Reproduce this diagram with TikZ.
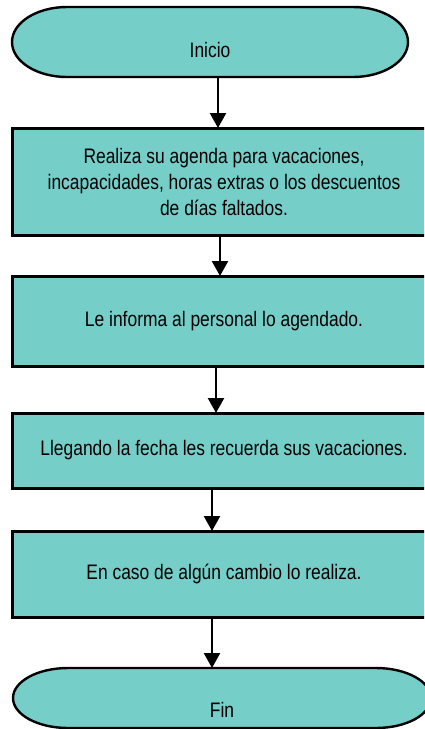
\documentclass[tikz,border=0pt]{standalone}
\usepackage{fontspec}
\setmainfont{Liberation Sans}[FakeStretch=0.83]
\usetikzlibrary{arrows.meta,positioning,backgrounds}
\definecolor{flowteal}{HTML}{76CEC8}

\begin{document}
\begin{tikzpicture}[
    terminal/.style={rectangle, minimum height=70pt, inner sep=0pt, outer sep=0pt, text depth=0pt, font=\fontsize{21}{26}\selectfont},
    termline/.style={draw=black, fill=flowteal, line width=2.4pt},
    process/.style={rectangle, draw=black, fill=flowteal, line width=3pt, minimum width=424pt, align=center, inner sep=0pt, outer sep=0pt, font=\fontsize{21}{26}\selectfont},
    arrow/.style={-{Triangle[length=15pt, width=16pt]}, line width=2.4pt, draw=black}
]
    \useasboundingbox (0,0) rectangle (424pt,-729pt);
    \clip (0,0) rectangle (424pt,-729pt);

    % Start
    \node (inicio) [terminal, minimum width=396pt, text height=30pt] at (210pt,-42pt) {Inicio};

    % Steps
    \node (agenda) [process, minimum height=107pt, below=51pt of inicio, xshift=14pt] {
        Realiza su agenda para vacaciones,\\
        incapacidades, horas extras o los descuentos\\
        de días faltados.
    };
    \node (informa) [process, minimum height=90pt, below=41pt of agenda] {Le informa al personal lo agendado.};
    \node (recuerda) [process, minimum height=75pt, below=47pt of informa] {Llegando la fecha les recuerda sus vacaciones.};
    \node (cambio) [process, minimum height=86pt, below=43pt of recuerda] {En caso de algún cambio lo realiza.};

    % End
    \node (fin) [terminal, minimum width=418pt, minimum height=60pt, text height=38pt, below=51pt of cambio, xshift=-2pt] {Fin};

    % Terminal outlines
    \begin{scope}[on background layer]
        \foreach \t/\ry in {inicio/35pt, fin/30pt}
            \draw [termline] ([xshift=55pt]\t.north west) -- ([xshift=-55pt]\t.north east)
                arc [start angle=90, end angle=-90, x radius=55pt, y radius=\ry]
                -- ([xshift=55pt]\t.south west)
                arc [start angle=270, end angle=90, x radius=55pt, y radius=\ry] -- cycle;
    \end{scope}

    % Arrows
    \draw [arrow] ([xshift=8pt]inicio.south) -- ([xshift=-6pt]agenda.north);
    \draw [arrow] ([xshift=-4pt]agenda.south) -- ([xshift=-4pt]informa.north);
    \draw [arrow] ([xshift=-8pt]informa.south) -- ([xshift=-8pt]recuerda.north);
    \draw [arrow] ([xshift=-12pt]recuerda.south) -- ([xshift=-12pt]cambio.north);
    \draw [arrow] ([xshift=-12pt]cambio.south) -- ([xshift=-10pt]fin.north);
\end{tikzpicture}
\end{document}
